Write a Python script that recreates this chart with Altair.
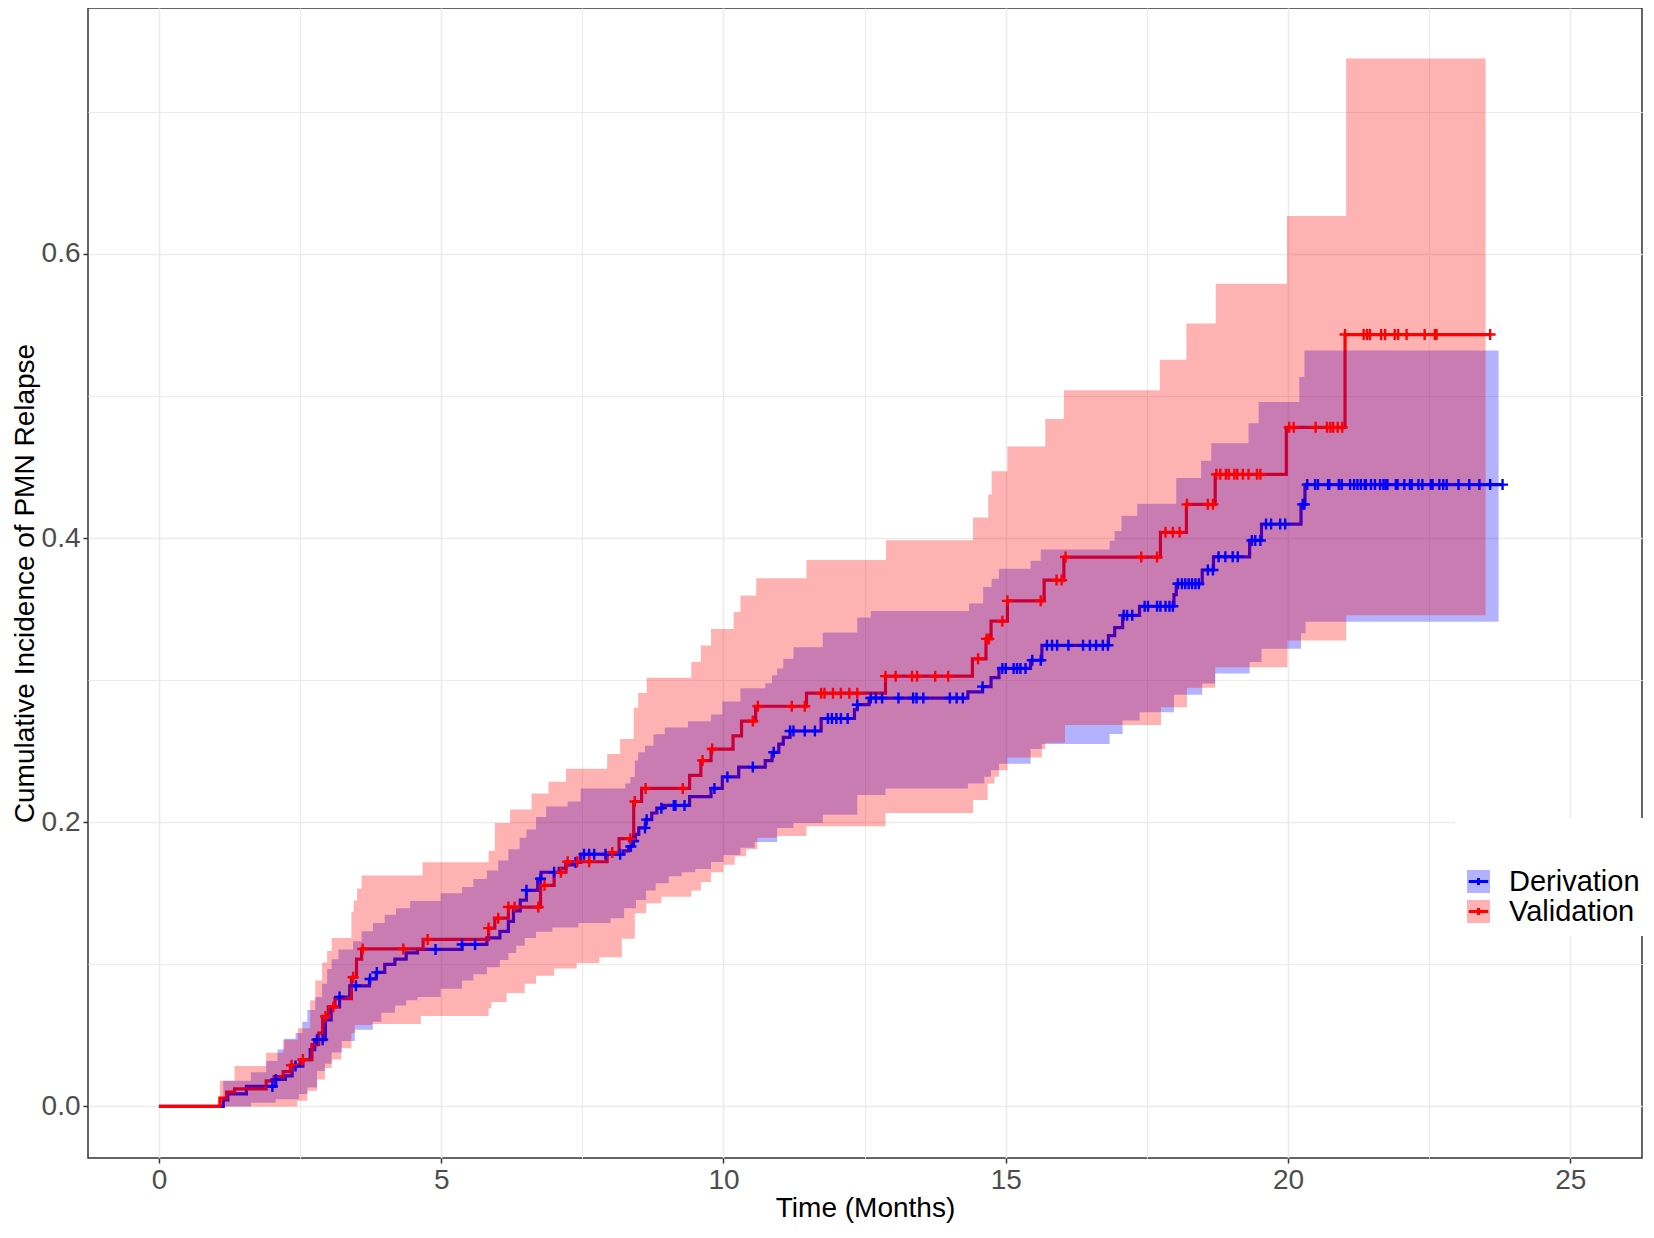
import altair as alt
import numpy as np
import pandas as pd

# ---------------- Derivation (blue) ----------------
der_est_t = [0, 1.14, 1.22, 1.55, 2.07, 2.24, 2.36, 2.55, 2.68, 2.76, 2.95, 3.05, 3.20, 3.38, 3.73,
             3.85, 4.00, 4.18, 4.38, 4.58, 5.37, 5.81, 6.04, 6.19, 6.28, 6.40, 6.51, 6.71, 6.77,
             7.09, 7.21, 7.33, 7.47, 8.23, 8.32, 8.38, 8.44, 8.50, 8.62, 8.73, 8.82, 8.93, 9.40,
             9.78, 9.98, 10.27, 10.74, 10.86, 10.98, 11.06, 11.18, 11.73, 12.32, 12.37, 12.58,
             14.33, 14.59, 14.74, 14.88, 15.44, 15.64, 16.82, 16.93, 17.07, 17.37, 17.98, 18.02,
             18.48, 18.68, 19.32, 19.53, 20.23, 20.30]
der_est_v = [0, 0.0045, 0.0088, 0.0141, 0.019, 0.0215, 0.0284, 0.033, 0.040, 0.047, 0.0608, 0.070,
             0.077, 0.0849, 0.0897, 0.0943, 0.100, 0.1036, 0.108, 0.1105, 0.114, 0.1186, 0.1232,
             0.1302, 0.1376, 0.1452, 0.1521, 0.1602, 0.1648, 0.1676, 0.1699, 0.1717, 0.1775,
             0.1798, 0.1829, 0.1868, 0.1914, 0.196, 0.2018, 0.2065, 0.2099, 0.2118, 0.218, 0.2238,
             0.2319, 0.2388, 0.2434, 0.2492, 0.255, 0.2597, 0.2642, 0.273, 0.2793, 0.2827, 0.2874,
             0.2917, 0.2954, 0.3017, 0.3082, 0.314, 0.3245, 0.3313, 0.337, 0.3456, 0.352, 0.3602,
             0.3678, 0.3775, 0.3868, 0.3983, 0.4098, 0.4237, 0.4376]
der_end = 23.80

der_hi_t = [1.14, 1.63, 1.90, 2.10, 2.22, 2.42, 2.54, 2.63, 2.77, 2.89, 2.98, 3.06, 3.18, 3.44, 3.59,
            3.79, 4.00, 4.20, 4.45, 4.99, 5.37, 5.57, 5.81, 6.01, 6.19, 6.39, 6.51, 6.68, 6.86, 7.24,
            7.47, 8.26, 8.35, 8.43, 8.49, 8.61, 8.76, 8.96, 9.37, 9.78, 9.98, 10.30, 10.74, 10.86,
            10.95, 11.06, 11.24, 11.76, 12.37, 12.61, 14.35, 14.60, 14.75, 14.88, 15.44, 15.62,
            16.84, 16.93, 17.05, 17.33, 18.02, 18.46, 18.64, 19.30, 19.48, 20.20, 20.29]
der_hi_v = [0.018, 0.024, 0.032, 0.040, 0.0477, 0.0516, 0.0596, 0.0678, 0.077, 0.0863, 0.0967,
            0.1036, 0.1105, 0.1163, 0.1232, 0.129, 0.1348, 0.1394, 0.1445, 0.150, 0.1544, 0.160,
            0.166, 0.173, 0.181, 0.189, 0.1949, 0.2036, 0.2111, 0.2146, 0.2238, 0.2273, 0.2319,
            0.2434, 0.2492, 0.2538, 0.2619, 0.2666, 0.2711, 0.2758, 0.285, 0.2943, 0.2978, 0.3035,
            0.3082, 0.3151, 0.3232, 0.3336, 0.344, 0.3486, 0.354, 0.3656, 0.3714, 0.3784, 0.384,
            0.392, 0.398, 0.405, 0.4156, 0.4242, 0.4423, 0.4544, 0.4667, 0.4807, 0.4958, 0.5133,
            0.5319]
der_lo_t = [1.14, 1.63, 2.07, 2.48, 2.63, 2.80, 2.94, 3.06, 3.24, 3.47, 3.79, 3.94, 4.18, 4.38, 4.58,
            4.99, 5.37, 5.57, 5.81, 6.04, 6.19, 6.33, 6.48, 6.68, 6.97, 7.43, 8.00, 8.24, 8.45, 8.63,
            8.80, 9.03, 9.26, 9.50, 9.78, 10.00, 10.30, 10.55, 10.95, 11.24, 11.76, 12.37, 12.87,
            14.33, 14.62, 14.74, 14.88, 15.44, 15.64, 16.84, 17.07, 17.37, 17.98, 18.48, 18.71,
            19.32, 19.53, 20.23, 20.31]
der_lo_v = [0, 0.0025, 0.005, 0.0088, 0.0134, 0.025, 0.030, 0.038, 0.046, 0.0539, 0.0596, 0.066,
            0.071, 0.0747, 0.077, 0.0828, 0.0886, 0.093, 0.098, 0.103, 0.108, 0.113, 0.1186, 0.123,
            0.126, 0.129, 0.1325, 0.1394, 0.1452, 0.152, 0.157, 0.162, 0.1648, 0.167, 0.172, 0.177,
            0.182, 0.186, 0.196, 0.1995, 0.2053, 0.2191, 0.2238, 0.2272, 0.232, 0.2365, 0.2411,
            0.2516, 0.255, 0.262, 0.2716, 0.2774, 0.2897, 0.2977, 0.3047, 0.3128, 0.322, 0.333,
            0.341]
der_band_end = 23.73

der_cens_t = [2.01, 2.07, 2.42, 2.80, 2.90, 3.20, 3.49, 3.74, 3.86, 4.90, 5.37, 5.60, 6.51, 6.76,
              7.00, 7.38, 7.53, 7.62, 7.71, 7.91, 8.17, 8.36, 8.41, 8.61, 8.64, 8.90, 9.12, 9.15,
              9.31, 9.84, 10.07, 10.52, 10.89, 11.18, 11.24, 11.44, 11.62, 11.85, 11.92, 12.00,
              12.08, 12.20, 12.37, 12.61, 12.70, 12.81, 13.10, 13.36, 13.42, 13.54, 14.01, 14.13,
              14.24, 14.59, 14.94, 15.00, 15.14, 15.20, 15.26, 15.35, 15.47, 15.62, 15.73, 15.82,
              15.91, 16.11, 16.37, 16.49, 16.60, 16.72, 16.81, 17.09, 17.15, 17.24, 17.46, 17.52,
              17.68, 17.74, 17.83, 17.90, 17.96, 18.05, 18.12, 18.18, 18.24, 18.30, 18.36, 18.42,
              18.58, 18.67, 18.77, 18.89, 19.02, 19.11, 19.36, 19.42, 19.51, 19.61, 19.70, 19.86,
              19.95, 20.26, 20.29, 20.34, 20.48, 20.53, 20.71, 20.73, 20.90, 20.95, 21.10, 21.17,
              21.23, 21.29, 21.36, 21.38, 21.47, 21.54, 21.63, 21.69, 21.73, 21.76, 21.91, 21.94,
              22.06, 22.16, 22.19, 22.31, 22.38, 22.53, 22.56, 22.68, 22.75, 22.81, 23.02, 23.21,
              23.39, 23.58, 23.80]

# ---------------- Validation (red) ----------------
val_est_t = [0, 1.08, 1.20, 1.34, 1.90, 2.04, 2.20, 2.33, 2.50, 2.71, 2.83, 2.90, 3.00, 3.12, 3.41,
             3.50, 3.59, 4.68, 5.84, 5.95, 6.19, 6.76, 7.00, 7.21, 7.94, 8.15, 8.41, 8.55, 9.40,
             9.60, 9.78, 10.17, 10.32, 10.57, 11.47, 12.87, 14.41, 14.65, 14.74, 15.03, 15.68,
             16.03, 17.74, 18.20, 18.71, 19.97, 21.01]
val_est_v = [0, 0.0058, 0.010, 0.0123, 0.018, 0.021, 0.0245, 0.029, 0.033, 0.0435, 0.0516, 0.0633,
             0.070, 0.0759, 0.0909, 0.1036, 0.1108, 0.1175, 0.1255, 0.1325, 0.1403, 0.1556,
             0.1648, 0.1722, 0.1787, 0.1884, 0.2146, 0.2238, 0.233, 0.2434, 0.2515, 0.2608,
             0.2712, 0.2816, 0.2908, 0.3028, 0.315, 0.329, 0.3415, 0.3558, 0.3704, 0.3866, 0.404,
             0.4237, 0.4448, 0.4779, 0.5432]
val_end = 23.58

val_hi_t = [1.08, 1.34, 1.90, 2.20, 2.46, 2.68, 2.77, 2.89, 2.98, 3.06, 3.41, 3.45, 3.51, 3.59, 4.67,
            5.84, 5.95, 6.22, 6.60, 6.90, 7.21, 7.94, 8.17, 8.41, 8.49, 8.64, 9.43, 9.60, 9.78,
            10.18, 10.30, 10.58, 11.47, 12.88, 14.42, 14.69, 14.75, 15.03, 15.70, 16.03, 17.73,
            18.20, 18.72, 19.98, 21.03]
val_hi_v = [0.018, 0.0284, 0.0377, 0.047, 0.055, 0.0747, 0.0886, 0.1012, 0.1093, 0.1186, 0.137,
            0.145, 0.1533, 0.1625, 0.1718, 0.18, 0.1995, 0.209, 0.2203, 0.2285, 0.2377, 0.248,
            0.2585, 0.2805, 0.291, 0.3017, 0.3128, 0.3243, 0.336, 0.348, 0.3595, 0.3717, 0.3845,
            0.3985, 0.4144, 0.4307, 0.447, 0.4644, 0.4837, 0.504, 0.5255, 0.551, 0.579, 0.6267,
            0.7374]
val_lo_t = [1.08, 2.45, 2.63, 2.80, 2.94, 3.06, 3.23, 3.41, 3.47, 3.77, 4.64, 5.84, 5.89, 6.16, 6.48,
            6.68, 7.00, 7.40, 7.80, 8.20, 8.43, 8.63, 8.90, 9.43, 9.60, 9.78, 10.00, 10.20, 10.40,
            10.60, 10.95, 11.47, 12.87, 14.42, 14.68, 14.80, 14.88, 15.03, 15.64, 15.70, 16.05,
            17.75, 18.21, 18.71, 19.99, 21.03]
val_lo_v = [0, 0.004, 0.011, 0.019, 0.027, 0.033, 0.041, 0.0516, 0.0573, 0.058, 0.0636, 0.069,
            0.0735, 0.0798, 0.0863, 0.092, 0.097, 0.101, 0.105, 0.118, 0.136, 0.143, 0.1475,
            0.152, 0.158, 0.1648, 0.170, 0.176, 0.181, 0.189, 0.1903, 0.1972, 0.2065, 0.2157,
            0.2272, 0.232, 0.2365, 0.2455, 0.2516, 0.256, 0.2684, 0.2809, 0.2946, 0.309, 0.3278,
            0.3456]
val_band_end = 23.50

val_cens_t = [2.35, 2.55, 2.95, 3.09, 3.44, 3.61, 4.33, 4.76, 5.84, 6.01, 6.19, 6.30, 6.72, 6.83,
              7.12, 7.24, 7.41, 7.62, 8.03, 8.35, 8.43, 8.62, 9.28, 9.63, 9.80, 10.52, 10.61,
              11.21, 11.44, 11.73, 11.79, 11.94, 12.08, 12.23, 12.37, 12.87, 13.05, 13.34, 13.43,
              13.75, 13.98, 14.51, 14.66, 14.70, 14.94, 15.03, 15.62, 15.90, 15.99, 16.06, 17.40,
              17.68, 17.83, 17.96, 18.08, 18.21, 18.58, 18.67, 18.73, 18.80, 18.90, 18.95, 19.05,
              19.10, 19.20, 19.30, 19.45, 19.51, 20.02, 20.10, 20.49, 20.69, 20.75, 20.80, 20.88,
              20.96, 21.01, 21.34, 21.40, 21.45, 21.65, 21.72, 21.89, 21.95, 22.10, 22.42, 22.60,
              22.63, 23.58]

series_names = ["Derivation", "Validation"]
series_colors = ["#0000FF", "#FF0000"]
x_ticks = [0, 2.5, 5, 7.5, 10, 12.5, 15, 17.5, 20, 22.5, 25]
y_ticks = [0, 0.1, 0.2, 0.3, 0.4, 0.5, 0.6, 0.7]


def step_at(ts, vs, t):
    i = int(np.searchsorted(np.asarray(ts), t, side="right")) - 1
    return vs[max(i, 0)]


def line_df(name, ts, vs, end):
    return pd.DataFrame({"t": list(ts) + [end], "v": list(vs) + [vs[-1]], "series": name})


def band_df(name, ht, hv, lt, lv, end):
    times = sorted(set(ht) | set(lt))
    hi = [step_at(ht, hv, t) for t in times]
    lo = [step_at(lt, lv, t) for t in times]
    times.append(end)
    hi.append(hi[-1])
    lo.append(lo[-1])
    return pd.DataFrame({"t": times, "lo": lo, "hi": hi, "series": name})


def cens_df(name, ct, et, ev):
    return pd.DataFrame({"t": ct, "v": [step_at(et, ev, t) for t in ct], "series": name})


der_line = line_df("Derivation", der_est_t, der_est_v, der_end)
val_line = line_df("Validation", val_est_t, val_est_v, val_end)
der_band = band_df("Derivation", der_hi_t, der_hi_v, der_lo_t, der_lo_v, der_band_end)
val_band = band_df("Validation", val_hi_t, val_hi_v, val_lo_t, val_lo_v, val_band_end)
der_cens = cens_df("Derivation", der_cens_t, der_est_t, der_est_v)
val_cens = cens_df("Validation", val_cens_t, val_est_t, val_est_v)

FONT = "Liberation Sans"
xscale = alt.Scale(domain=[-1.256, 26.27], nice=False, zero=False)
yscale = alt.Scale(domain=[-0.0363, 0.773], nice=False, zero=False)

x_minor = "datum.value % 5 !== 0"
y_minor = "round(datum.value * 10) % 2 === 1"

xaxis = alt.Axis(
    values=x_ticks,
    labelExpr="datum.value % 5 === 0 ? format(datum.value, 'd') : ''",
    tickOpacity={"condition": {"test": x_minor, "value": 0}, "value": 1},
    gridWidth={"condition": {"test": x_minor, "value": 1.0}, "value": 1.6},
    labelFlush=False, labelOverlap=False,
)
yaxis = alt.Axis(
    values=y_ticks,
    labelExpr="round(datum.value * 10) % 2 === 0 ? format(datum.value, '.1f') : ''",
    tickOpacity={"condition": {"test": y_minor, "value": 0}, "value": 1},
    gridWidth={"condition": {"test": y_minor, "value": 1.0}, "value": 1.6},
    labelFlush=False, labelOverlap=False,
)


def X():
    return alt.X("t:Q", scale=xscale, axis=xaxis, title="Time (Months)")


def Y(field):
    return alt.Y(f"{field}:Q", scale=yscale, axis=yaxis,
                 title="Cumulative Incidence of PMN Relapse")


legend_common = dict(
    title=" ", orient="none", legendX=1367, legendY=810, padding=9,
    symbolSize=529, labelFontSize=29, labelFont=FONT, labelColor="black",
    labelOffset=16, rowPadding=0, titleFontSize=28, titlePadding=12, labelLimit=400,
)

fill_enc = alt.Fill("series:N", scale=alt.Scale(range=series_colors),
                    legend=alt.Legend(fillColor="white", symbolType="square",
                                      symbolOpacity=0.3, symbolStrokeWidth=0,
                                      zindex=0, **legend_common))
stroke_enc = alt.Stroke("series:N", scale=alt.Scale(range=series_colors),
                        legend=alt.Legend(symbolType="M-0.85,0H0.85M0,-0.3V0.3",
                                          symbolStrokeWidth=3, labelOpacity=0,
                                          zindex=1, **legend_common))


def line_layer(df):
    return alt.Chart(df).mark_line(interpolate="step-after", strokeWidth=3.2).encode(
        x=X(), y=Y("v"), stroke=stroke_enc)


def band_layer(df):
    return alt.Chart(df).mark_area(interpolate="step-after", fillOpacity=0.3, strokeWidth=0).encode(
        x=X(), y=Y("lo"), y2=alt.Y2("hi"), fill=fill_enc)


def cens_layer(df):
    return alt.Chart(df).mark_point(shape="M-1,0L1,0M0,-1L0,1", filled=False, size=121,
                                    strokeWidth=2.4, opacity=1).encode(
        x=X(), y=Y("v"), stroke=stroke_enc)


chart = alt.layer(
    line_layer(der_line), line_layer(val_line),
    band_layer(der_band), band_layer(val_band),
    cens_layer(der_cens), cens_layer(val_cens),
).properties(
    width=1554, height=1150,
    autosize=alt.AutoSizeParams(type="none"),
    padding={"left": 80, "top": 0, "right": 4, "bottom": 68},
    background="white",
).configure_view(
    stroke="#333333", strokeWidth=1.5,
).configure_axis(
    domain=False, gridColor="#EBEBEB",
    tickColor="#333333", tickWidth=1.5, tickSize=5,
    labelFont=FONT, labelFontSize=28, labelColor="#4D4D4D", labelPadding=3,
    titleFont=FONT, titleFontSize=28, titleColor="black", titleFontWeight="normal",
).configure_axisY(titlePadding=2).configure_axisX(titlePadding=0, labelPadding=3)

chart.save("out.html", embed_options={"renderer": "svg", "actions": False})
